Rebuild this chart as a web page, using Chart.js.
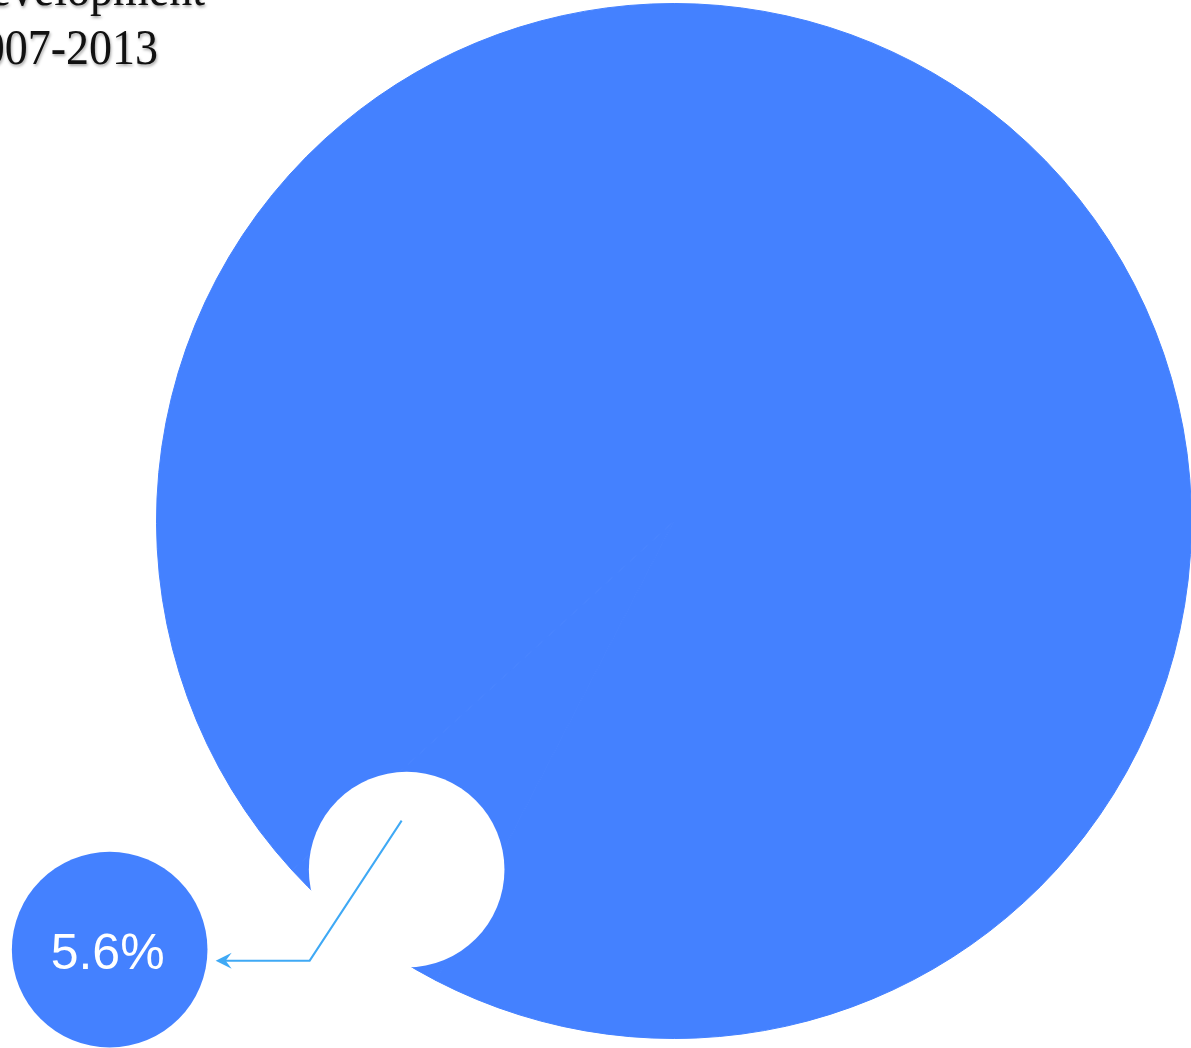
<!DOCTYPE html>
<html>
<head>
<meta charset="utf-8">
<title>Development 2007-2013</title>
<script src="https://cdn.jsdelivr.net/npm/chart.js@4.4.1/dist/chart.umd.min.js"></script>
<style>
    html, body {
        margin: 0;
        padding: 0;
        background: #ffffff;
        overflow: hidden;
    }
    /* wider than the window, the pie runs off the right edge */
    .chart-container {
        position: absolute;
        left: 0;
        top: 0;
        width: 1200px;
        height: 1048px;
    }
</style>
</head>
<body>
<div class="chart-container">
    <canvas id="shareChart"></canvas>
</div>
<script>
// Data
const labels = ['Share', 'Rest'];
const values = [5.6, 94.4];          // percentages
const titleLines = ['Development', '2007-2013'];

const blue = '#4481ff';
const arrowColor = '#3fa9f5';

const ctx = document.getElementById('shareChart').getContext('2d');

// Draws the bite out of the pie, the callout bubble, the arrow and the title
const calloutPlugin = {
    id: 'callout',
    afterDatasetsDraw(chart) {
        const arc = chart.getDatasetMeta(0).data[0];
        const p = arc.getProps(['x', 'y', 'startAngle', 'endAngle', 'outerRadius'], true);
        const mid = (p.startAngle + p.endAngle) / 2;
        const R = p.outerRadius;
        const c = chart.ctx;

        // bite centred on the middle of the share slice
        const nx = p.x + Math.cos(mid) * R * 0.849;
        const ny = p.y + Math.sin(mid) * R * 0.849;
        const nr = R * 0.189;

        c.save();
        c.fillStyle = '#ffffff';
        c.beginPath();
        c.arc(nx, ny, nr, 0, Math.PI * 2);
        c.fill();

        // callout bubble
        const bx = nx - 297;
        const by = ny + 80;
        c.fillStyle = blue;
        c.beginPath();
        c.arc(bx, by, nr, 0, Math.PI * 2);
        c.fill();

        c.fillStyle = '#ffffff';
        c.font = '50px "Liberation Sans", Arial, sans-serif';
        c.textAlign = 'center';
        c.textBaseline = 'alphabetic';
        c.fillText(values[0].toFixed(1) + '%', bx - 2, by + 19);

        // arrow from the bite to the bubble
        const tipX = nx - 191;
        const lineY = ny + 91;
        c.strokeStyle = arrowColor;
        c.lineWidth = 2;
        c.beginPath();
        c.moveTo(nx - 5, ny - 49);
        c.lineTo(nx - 97, lineY);
        c.lineTo(tipX + 8, lineY);
        c.stroke();

        c.fillStyle = arrowColor;
        c.beginPath();
        c.moveTo(tipX, lineY);
        c.lineTo(tipX + 16, lineY - 8);
        c.lineTo(tipX + 10, lineY);
        c.lineTo(tipX + 16, lineY + 8);
        c.closePath();
        c.fill();
        c.restore();
    },
    afterDraw(chart) {
        const c = chart.ctx;
        const stretch = 1.1;  // the title font is a bit taller than Liberation Serif
        c.save();
        c.scale(1, stretch);
        c.font = '46px "Liberation Serif", "Times New Roman", serif';
        c.fillStyle = '#111111';
        c.textAlign = 'right';
        c.textBaseline = 'alphabetic';
        c.shadowColor = 'rgba(0, 0, 0, 0.35)';
        c.shadowBlur = 3;
        c.shadowOffsetX = 1;
        c.shadowOffsetY = 2;
        c.fillText(titleLines[0], 205, 5 / stretch);
        c.fillText(titleLines[1], 158, 64 / stretch);
        c.restore();
    }
};

const shareChart = new Chart(ctx, {
    type: 'pie',
    data: {
        labels: labels,
        datasets: [{
            data: values,
            backgroundColor: [blue, blue],
            borderColor: blue,
            borderWidth: 1
        }]
    },
    options: {
        responsive: true,
        maintainAspectRatio: false,
        animation: false,
        rotation: 207.4,   // puts the share slice at the lower left
        layout: {
            padding: { left: 155, top: 3, right: 7, bottom: 9 }
        },
        plugins: {
            legend: { display: false },
            tooltip: { enabled: false }
        }
    },
    plugins: [calloutPlugin]
});
</script>
</body>
</html>
